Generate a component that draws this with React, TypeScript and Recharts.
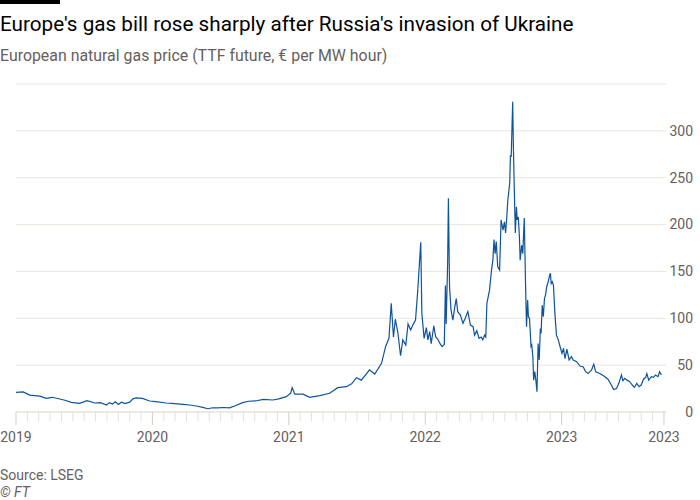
import React from 'react';
import { LineChart, Line, XAxis, YAxis, CartesianGrid } from 'recharts';

const dates2019 = ['2019-01-01', '2019-01-20', '2019-02-07', '2019-02-20', '2019-03-06', '2019-03-23', '2019-04-08', '2019-04-28', '2019-05-12', '2019-05-29', '2019-06-20', '2019-07-10', '2019-07-31', '2019-08-15', '2019-08-31', '2019-09-08', '2019-09-16', '2019-09-24', '2019-10-02', '2019-10-10', '2019-10-20', '2019-11-01', '2019-11-10', '2019-11-19', '2019-12-05', '2019-12-25'];
const prices2019 = [21, 21.5, 18, 17.5, 17, 14.6, 15.7, 13.9, 12.5, 10.3, 9.2, 12, 9.6, 10, 7.5, 10, 8.5, 11, 8, 10.5, 9, 10.5, 14, 15, 14.5, 11.7];

const dates2020 = ['2020-01-10', '2020-02-07', '2020-03-01', '2020-03-23', '2020-04-10', '2020-04-28', '2020-05-15', '2020-05-29', '2020-06-10', '2020-06-24', '2020-07-10', '2020-07-26', '2020-08-12', '2020-08-30', '2020-09-15', '2020-10-06', '2020-10-25', '2020-11-19', '2020-12-05', '2020-12-25'];
const prices2020 = [11, 9.6, 9, 8.2, 7.5, 6.4, 5, 3.5, 4.5, 4.3, 4.8, 4.5, 7, 10, 11.5, 12, 13.5, 12.8, 14, 16.4];

const dates2021 = ['2021-01-06', '2021-01-10', '2021-01-17', '2021-02-08', '2021-02-26', '2021-03-25', '2021-04-20', '2021-05-12', '2021-06-04', '2021-06-18', '2021-07-01', '2021-07-14', '2021-08-05', '2021-08-19', '2021-09-06', '2021-09-17', '2021-09-26', '2021-10-02', '2021-10-08', '2021-10-13', '2021-10-20', '2021-10-27', '2021-11-02', '2021-11-10', '2021-11-16', '2021-11-23', '2021-11-29', '2021-12-06', '2021-12-12', '2021-12-20', '2021-12-23', '2021-12-29'];
const prices2021 = [20, 26, 19, 19, 15.6, 17.4, 20, 26, 27, 30, 36.6, 34, 45, 40.5, 52, 70, 78.6, 116, 80, 99, 84, 60, 77, 71.5, 94, 87.5, 93, 98, 130, 181, 105, 78.6];

const dates2022 = ['2022-01-04', '2022-01-08', '2022-01-13', '2022-01-17', '2022-01-24', '2022-01-29', '2022-02-04', '2022-02-10', '2022-02-15', '2022-02-21', '2022-02-24', '2022-02-26', '2022-03-02', '2022-03-04', '2022-03-07', '2022-03-11', '2022-03-16', '2022-03-21', '2022-03-25', '2022-03-29', '2022-04-05', '2022-04-12', '2022-04-18', '2022-04-25', '2022-05-02', '2022-05-09', '2022-05-13', '2022-05-19', '2022-05-25', '2022-05-31', '2022-06-04', '2022-06-09', '2022-06-12', '2022-06-15', '2022-06-22', '2022-06-27', '2022-07-01', '2022-07-04', '2022-07-07', '2022-07-10', '2022-07-14', '2022-07-19', '2022-07-23', '2022-07-28', '2022-08-01', '2022-08-04', '2022-08-07', '2022-08-10', '2022-08-15', '2022-08-17', '2022-08-19', '2022-08-23', '2022-08-25', '2022-08-28', '2022-08-30', '2022-09-02', '2022-09-04', '2022-09-07', '2022-09-10', '2022-09-12', '2022-09-16', '2022-09-19', '2022-09-23', '2022-09-26', '2022-09-29', '2022-10-02', '2022-10-04', '2022-10-07', '2022-10-11', '2022-10-13', '2022-10-16', '2022-10-18', '2022-10-21', '2022-10-24', '2022-10-27', '2022-10-30', '2022-11-02', '2022-11-05', '2022-11-07', '2022-11-10', '2022-11-13', '2022-11-16', '2022-11-19', '2022-11-22', '2022-11-26', '2022-11-30', '2022-12-02', '2022-12-04', '2022-12-07', '2022-12-10', '2022-12-14', '2022-12-18', '2022-12-23', '2022-12-29'];
const prices2022 = [90, 77, 85.7, 73, 92, 80, 77.6, 72.6, 69.7, 72, 135, 94, 160, 228, 134, 109, 98, 112, 121, 107, 103.5, 94.6, 100, 107, 92.8, 91, 82, 86.8, 78.6, 80, 77, 82, 80, 116, 130, 150, 162, 184, 169, 182, 155, 151.5, 205, 194, 203, 191, 207, 226, 244, 274, 272, 331, 280, 226, 191, 219, 205, 208, 187, 162, 178, 169, 207, 144, 91, 119.5, 101.7, 100, 70, 71.5, 59, 34, 43, 34, 21.7, 73, 55.5, 89, 84, 114, 101.7, 121, 125, 133.7, 139, 146, 148, 137, 139, 135.5, 105, 82, 77, 68];

const dates2023 = ['2023-01-02', '2023-01-06', '2023-01-10', '2023-01-15', '2023-01-21', '2023-01-27', '2023-02-01', '2023-02-10', '2023-02-19', '2023-02-28', '2023-03-06', '2023-03-13', '2023-03-22', '2023-03-28', '2023-04-02', '2023-04-13', '2023-04-24', '2023-05-05', '2023-05-14', '2023-05-20', '2023-05-28', '2023-06-03', '2023-06-10', '2023-06-14', '2023-06-19', '2023-06-25', '2023-07-02', '2023-07-09', '2023-07-15', '2023-07-21', '2023-07-27', '2023-08-02', '2023-08-08', '2023-08-14', '2023-08-17', '2023-08-22', '2023-08-29', '2023-09-04', '2023-09-09', '2023-09-16', '2023-09-20', '2023-09-25'];
const prices2023 = [62.6, 68, 57, 67, 55.5, 59, 55.5, 53.7, 49, 48, 43, 41, 44.8, 51, 43, 41, 38.4, 35, 28.8, 24, 25, 30.6, 39.5, 33.4, 36, 34, 32.3, 28.8, 26.3, 30.6, 27, 28.8, 35, 37, 41, 34, 37.7, 37, 39.5, 37.7, 43, 39.5];

const yTicks = [0, 50, 100, 150, 200, 250, 300];
const labelTicks = [2019, 2020, 2021, 2022, 2023, 2023.75];
const tickLabels = ['2019', '2020', '2021', '2022', '2023', '2023'];

const toYear = (s: string) => {
  const [y, m, d] = s.split('-').map(Number);
  const start = Date.UTC(y, 0, 1);
  const end = Date.UTC(y + 1, 0, 1);
  return y + (Date.UTC(y, m - 1, d) - start) / (end - start);
};

const allDates = [...dates2019, ...dates2020, ...dates2021, ...dates2022, ...dates2023];
const allPrices = [...prices2019, ...prices2020, ...prices2021, ...prices2022, ...prices2023];
const data = allDates.map((d, i) => ({ t: toYear(d), price: allPrices[i] }));

// monthly minor ticks, Jan 2019 .. Oct 2023
const monthTicks = Array.from({ length: 58 }, (_, m) => 2019 + m / 12);

const FONT = 'Roboto, "Noto Sans", sans-serif';
const GREY = '#66605c';

const XTick = (props: any) => {
  const { x, y, payload } = props;
  const idx = labelTicks.findIndex((v) => Math.abs(v - payload.value) < 0.001);
  const major = idx >= 0;
  return (
    <g>
      <line x1={x} x2={x} y1={y} y2={y + (major ? 13 : 9)} stroke={major ? '#d6cdc4' : '#e6dfd8'} strokeWidth={1} />
      {major && (
        <text x={x} y={y + 30} textAnchor="middle" fill={GREY} fontSize={14} fontFamily={FONT}>
          {tickLabels[idx]}
        </text>
      )}
    </g>
  );
};

const YTick = (props: any) => {
  const { x, y, payload } = props;
  return (
    <text x={x + 27} y={y} dy="0.35em" textAnchor="end" fill={GREY} fontSize={14} fontFamily={FONT}>
      {payload.value}
    </text>
  );
};

export default function App() {
  return (
    <div style={{ position: 'absolute', left: 0, top: 0, width: 700, height: 500, background: '#fff', fontFamily: FONT, overflow: 'hidden' }}>
      <div style={{ position: 'absolute', left: 0, top: 0, width: 60, height: 4, background: '#000' }} />
      <div style={{ position: 'absolute', left: 0, top: 11, fontSize: 20.7, lineHeight: '26px', color: '#000', whiteSpace: 'nowrap' }}>
        Europe's gas bill rose sharply after Russia's invasion of Ukraine
      </div>
      <div style={{ position: 'absolute', left: 0, top: 46, fontSize: 15.9, lineHeight: '20px', color: GREY, whiteSpace: 'nowrap' }}>
        European natural gas price (TTF future, € per MW hour)
      </div>
      <div style={{ position: 'absolute', left: 0, top: 0 }}>
        <LineChart width={700} height={450} data={data} margin={{ top: 84, right: 0, bottom: 0, left: 16 }}>
          <CartesianGrid horizontal vertical={false} stroke="#ebe5df" />
          <XAxis
            type="number"
            dataKey="t"
            domain={[2019, 2023.765]}
            ticks={monthTicks}
            interval={0}
            tick={<XTick />}
            tickLine={false}
            tickSize={0}
            tickMargin={0}
            axisLine={{ stroke: '#e6dfd8' }}
            height={38}
            allowDataOverflow
          />
          <YAxis
            orientation="right"
            domain={[0, 350]}
            ticks={yTicks}
            interval={0}
            tick={<YTick />}
            tickLine={false}
            tickSize={0}
            tickMargin={0}
            axisLine={false}
            width={34}
          />
          <Line type="linear" dataKey="price" stroke="#0f5499" strokeWidth={1.2} dot={false} isAnimationActive={false} />
        </LineChart>
      </div>
      <div style={{ position: 'absolute', left: 0, top: 466, fontSize: 14, lineHeight: '18px', color: GREY, whiteSpace: 'nowrap' }}>Source: LSEG</div>
      <div style={{ position: 'absolute', left: 0, top: 483, fontSize: 14, lineHeight: '18px', color: GREY, fontStyle: 'italic', whiteSpace: 'nowrap' }}>© FT</div>
    </div>
  );
}
